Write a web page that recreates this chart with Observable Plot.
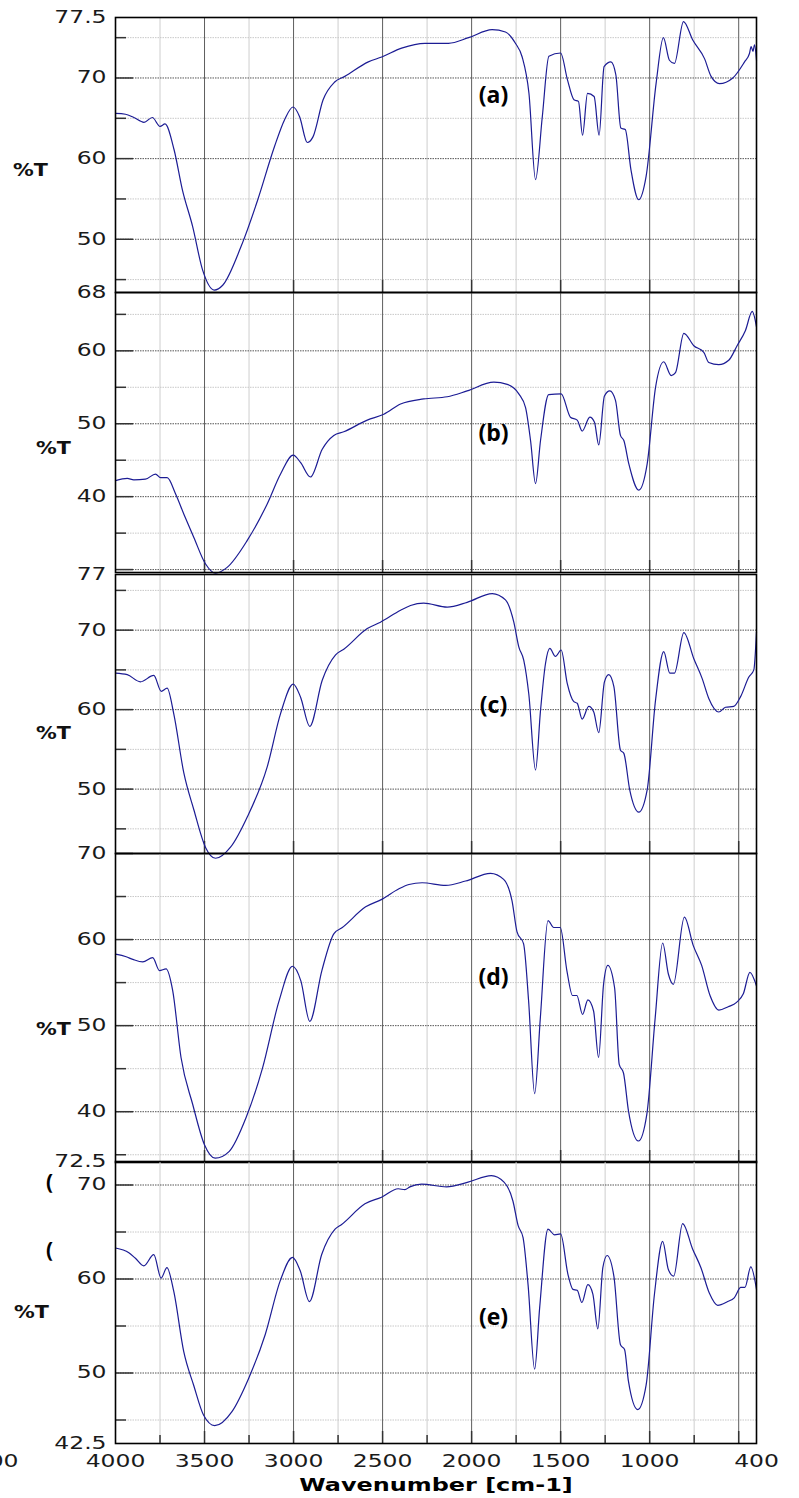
<!DOCTYPE html>
<html><head><meta charset="utf-8">
<script src="https://cdn.jsdelivr.net/npm/d3@7"></script>
<script src="https://cdn.jsdelivr.net/npm/@observablehq/plot@0.6"></script>
<style>
html,body{margin:0;padding:0;background:#fff;}
#chart{position:relative;width:799px;height:1498px;overflow:hidden;background:#fff;}
.panel{position:absolute;left:0;}
.panel svg{overflow:visible;background:transparent;}
</style></head><body><div id="chart"></div>
<script>
// ---- data: [wavenumber cm-1, %T] ----
const spectrumA = [
[4000,65.6],[3944,65.5],[3897,65.1],[3840,64.5],[3793,65.1],[3750,64.0],[3722,64.3],[3671,61.1],[3624,56.1],[3567,51.6],[3511,46.2],[3445,43.7],[3398,44.3],[3295,49.1],[3201,54.9],[3107,61.5],[3051,64.8],[3003,66.4],[2966,65.2],[2923,62.0],[2891,62.7],[2834,67.3],[2769,69.5],[2712,70.2],[2580,72.0],[2505,72.6],[2393,73.7],[2262,74.3],[2130,74.3],[2017,75.0],[1885,76.0],[1810,75.7],[1754,74.3],[1716,72.6],[1678,68.1],[1641,57.4],[1603,65.2],[1566,72.7],[1500,73.1],[1462,69.8],[1425,67.3],[1400,67.1],[1377,62.9],[1349,68.1],[1312,67.7],[1284,62.9],[1256,71.4],[1218,72.0],[1190,70.4],[1162,63.8],[1137,63.6],[1105,58.6],[1062,54.9],[1020,57.8],[964,69.3],[923,75.0],[889,72.2],[861,71.8],[810,77.0],[758,74.7],[692,72.4],[655,70.2],[608,69.3],[533,70.0],[467,72.0],[440,73.0],[430,73.9],[420,73.3],[411,74.1],[400,72.2]
];
const spectrumB = [
[4000,42.2],[3934,42.5],[3897,42.3],[3832,42.4],[3775,43.1],[3747,42.6],[3710,42.6],[3663,40.4],[3616,37.6],[3560,34.4],[3495,30.8],[3438,29.5],[3373,30.3],[3260,34.0],[3148,39.0],[3073,43.1],[3002,45.7],[2961,44.7],[2905,42.7],[2839,46.5],[2774,48.4],[2718,48.9],[2586,50.5],[2493,51.3],[2399,52.7],[2269,53.4],[2137,53.7],[2025,54.5],[1875,55.7],[1800,55.4],[1735,54.1],[1697,52.2],[1669,47.7],[1641,41.8],[1613,47.7],[1567,54.0],[1497,54.1],[1445,50.9],[1407,50.5],[1379,49.0],[1336,50.9],[1310,50.2],[1286,47.1],[1254,53.8],[1224,54.5],[1192,53.2],[1164,48.4],[1145,47.7],[1117,44.5],[1061,40.9],[1014,44.5],[967,55.0],[921,58.5],[879,56.6],[855,57.0],[808,62.4],[752,60.7],[696,59.8],[668,58.4],[612,58.1],[556,58.7],[509,60.7],[462,62.8],[424,65.4],[400,63.3]
];
const spectrumC = [
[4000,64.6],[3934,64.4],[3860,63.5],[3785,64.3],[3743,62.3],[3710,62.7],[3673,59.5],[3616,52.0],[3560,47.4],[3495,42.7],[3438,41.3],[3354,42.7],[3260,46.5],[3148,52.8],[3073,59.5],[3002,63.2],[2961,61.6],[2909,57.9],[2839,63.7],[2764,66.9],[2718,67.6],[2586,70.2],[2512,71.0],[2399,72.5],[2343,73.1],[2269,73.4],[2137,72.9],[2025,73.5],[1884,74.6],[1810,73.8],[1763,71.0],[1735,67.9],[1707,66.2],[1679,62.0],[1641,52.4],[1613,59.9],[1585,65.8],[1561,67.7],[1529,66.7],[1497,67.5],[1463,63.3],[1426,61.0],[1407,60.8],[1379,58.8],[1342,60.4],[1314,59.7],[1286,57.1],[1254,63.5],[1230,64.4],[1201,62.9],[1164,54.9],[1145,54.5],[1112,49.9],[1061,47.1],[1014,49.9],[967,61.2],[921,67.3],[887,64.6],[861,64.6],[808,69.7],[752,66.4],[705,63.9],[668,61.4],[612,59.7],[574,60.3],[528,60.4],[490,61.6],[443,64.1],[415,65.0],[400,69.8]
];
const spectrumD = [
[4000,58.3],[3940,58.0],[3903,57.7],[3847,57.4],[3791,57.9],[3753,56.4],[3716,56.6],[3679,54.1],[3632,46.3],[3567,40.9],[3501,36.2],[3440,34.6],[3361,35.4],[3267,39.3],[3174,45.1],[3081,52.9],[3006,56.9],[2959,55.2],[2909,50.5],[2841,56.4],[2773,60.7],[2726,61.4],[2595,63.8],[2502,64.7],[2408,65.9],[2352,66.4],[2278,66.6],[2146,66.3],[2034,66.8],[1894,67.7],[1820,67.0],[1773,64.5],[1745,60.9],[1708,59.5],[1680,52.9],[1646,42.1],[1614,50.9],[1571,62.2],[1539,61.4],[1502,61.4],[1465,56.4],[1433,53.5],[1409,53.5],[1377,51.3],[1347,53.0],[1315,51.7],[1287,46.3],[1259,54.8],[1235,57.0],[1197,54.4],[1171,45.5],[1147,44.5],[1119,40.1],[1063,36.6],[1016,39.7],[969,50.9],[927,59.6],[895,56.0],[867,54.8],[805,62.6],[755,59.3],[708,57.0],[661,53.5],[611,51.8],[559,52.2],[512,52.7],[474,53.7],[437,56.2],[400,54.6]
];
const spectrumE = [
[4000,63.3],[3925,62.8],[3888,62.2],[3841,61.4],[3785,62.6],[3744,60.1],[3711,61.2],[3673,58.7],[3617,52.3],[3561,48.7],[3505,45.5],[3443,44.4],[3346,45.9],[3253,49.4],[3159,54.1],[3075,59.8],[3006,62.3],[2963,60.9],[2911,57.6],[2842,62.6],[2767,65.3],[2730,65.8],[2599,68.0],[2506,68.7],[2412,69.6],[2375,69.5],[2347,69.8],[2281,70.1],[2141,69.8],[2020,70.3],[1889,71.0],[1818,70.3],[1768,68.3],[1739,65.7],[1711,64.4],[1683,59.4],[1646,50.4],[1618,56.9],[1571,65.3],[1534,64.7],[1500,64.8],[1459,60.5],[1431,58.9],[1407,58.8],[1381,57.5],[1347,59.4],[1319,58.4],[1291,54.7],[1263,61.2],[1239,62.5],[1201,60.3],[1164,53.0],[1141,52.5],[1119,49.1],[1067,46.1],[1020,48.7],[973,58.4],[927,64.0],[895,61.0],[865,60.3],[815,65.9],[759,63.2],[712,61.2],[665,58.5],[618,57.2],[562,57.6],[525,58.0],[488,59.1],[465,59.1],[432,61.3],[400,58.9]
];
// y ranges of each panel [bottom, top]
const rangeA = [43.4, 77.5];
const rangeB = [29.6, 68];
const rangeC = [41.9, 77];
const rangeD = [34.1, 70];
const rangeE = [42.5, 72.5];
// labelled y ticks
const yLabelsA = [77.5, 70, 60, 50];
const yLabelsB = [68, 60, 50, 40];
const yLabelsC = [77, 70, 60, 50];
const yLabelsD = [70, 60, 50, 40];
const yLabelsE = [72.5, 70, 60, 50, 42.5];
// x ticks
const majorWave = [3500, 3000, 2500, 2000, 1500, 1000, 500];
const minorWave = [3750, 3250, 2750, 2250, 1750, 1250, 750];
const xTickLabels = [4000, 3500, 3000, 2500, 2000, 1500, 1000, 400];
const panelTags = ["(a)", "(b)", "(c)", "(d)", "(e)"];

// ---- layout ----
const W = 799, ML = 115, MR = 43;
const plotW = W - ML - MR;
const lineColor = "#1c1c94";
const majorGrid = "#5e5e5e", minorGrid = "#d6d6d6";

const panels = [
  {data: spectrumA, domain: rangeA, labels: yLabelsA, top: 17, height: 275, tagY: 95, pct: [30, 170]},
  {data: spectrumB, domain: rangeB, labels: yLabelsB, top: 292, height: 280, tagY: 433, pct: [53, 448]},
  {data: spectrumC, domain: rangeC, labels: yLabelsC, top: 574, height: 279, tagY: 705, pct: [53, 733]},
  {data: spectrumD, domain: rangeD, labels: yLabelsD, top: 853, height: 309, tagY: 977, pct: [53, 1029]},
  {data: spectrumE, domain: rangeE, labels: yLabelsE, top: 1161, height: 282, tagY: 1317, pct: [31, 1312], last: true}
];

// stretch a text element horizontally about its anchor
function stretch(t, sx) {
  const tr = t.getAttribute("transform");
  if (tr && tr.includes("translate")) {
    t.setAttribute("transform", tr + ` scale(${sx},1)`);
  } else {
    const x = +(t.getAttribute("x") || 0), y = +(t.getAttribute("y") || 0);
    t.removeAttribute("x"); t.removeAttribute("y");
    t.setAttribute("transform", `translate(${x},${y}) scale(${sx},1)` + (tr ? " " + tr : ""));
  }
}

const chart = document.getElementById("chart");
panels.forEach((p, i) => {
  const [lo, hi] = p.domain;
  const major = d3.range(Math.ceil(lo / 10) * 10, hi + 1e-9, 10);
  const minor = d3.range(Math.ceil(lo / 5) * 5, hi + 1e-9, 5).filter(v => v % 10 !== 0);
  const numFont = {fontSize: 17, fontFamily: "DejaVu Sans", fill: "#1a1a1a", lineAnchor: "middle"};
  const marks = [
    Plot.ruleX(minorWave, {x: d => d, stroke: minorGrid, strokeWidth: 1.2}),
    Plot.ruleY(minor, {y: d => d, stroke: "#c8c8c8", strokeDasharray: "1.5,1"}),
    Plot.ruleX(majorWave, {x: d => d, stroke: majorGrid, strokeWidth: 1}),
    Plot.ruleY(major, {y: d => d, stroke: "#555", strokeDasharray: "1.5,1"}),
    Plot.tickY(major, {y: d => d, stroke: "#333", strokeWidth: 1.5, insetRight: plotW - 18}),
    Plot.tickY(minor, {y: d => d, stroke: "#333", strokeWidth: 1.5, insetRight: plotW - 11}),
    Plot.tickX(majorWave, {x: d => d, stroke: "#333", strokeWidth: 1.5, insetTop: p.height - 12}),
    Plot.line(p.data, {x: d => d[0], y: d => d[1], stroke: lineColor, strokeWidth: 1.2, curve: "monotone-x"}),
    Plot.frame({stroke: "#000", strokeWidth: 1.6}),
    Plot.text(p.labels, {y: d => d, text: d => String(d), frameAnchor: "left", dx: -9, textAnchor: "end", ...numFont}),
    Plot.text(["%T"], {frameAnchor: "top-left", dx: p.pct[0] - ML, dy: p.pct[1] - p.top, textAnchor: "middle", lineAnchor: "middle",
      fontSize: 18, fontWeight: "bold", fontFamily: "DejaVu Sans", fill: "#111"}),
    Plot.text([panelTags[i]], {frameAnchor: "top-left", dx: 493 - ML, dy: p.tagY - p.top, textAnchor: "middle", lineAnchor: "middle",
      fontSize: 23, fontWeight: "bold", fontFamily: "Open Sans", fill: "#000"})
  ];
  if (p.last) {
    marks.push(
      Plot.tickX(minorWave, {x: d => d, stroke: "#333", strokeWidth: 1.5, insetTop: p.height - 8}),
      Plot.text(xTickLabels, {x: d => d, text: d => String(d), frameAnchor: "bottom", dy: 18, ...numFont}),
      Plot.text(["00"], {frameAnchor: "bottom-left", dx: 18 - ML, dy: 18, textAnchor: "end", ...numFont}),
      Plot.text(["Wavenumber [cm-1]"], {frameAnchor: "bottom", dy: 42, lineAnchor: "middle",
        fontSize: 18, fontWeight: "bold", fontFamily: "DejaVu Sans", fill: "#000"}),
      Plot.text(["("], {frameAnchor: "top-left", dx: 49 - ML, dy: 1182 - p.top, textAnchor: "middle", lineAnchor: "middle",
        fontSize: 21, fontWeight: "bold", fontFamily: "Open Sans", fill: "#000"}),
      Plot.text(["("], {frameAnchor: "top-left", dx: 49 - ML, dy: 1250 - p.top, textAnchor: "middle", lineAnchor: "middle",
        fontSize: 21, fontWeight: "bold", fontFamily: "Open Sans", fill: "#000"})
    );
  }
  const svg = Plot.plot({
    width: W, height: p.height,
    marginLeft: ML, marginRight: MR, marginTop: 0, marginBottom: 0,
    style: {overflow: "visible", background: "transparent"},
    x: {domain: [4000, 400], axis: null},
    y: {domain: [lo, hi], axis: null},
    marks
  });
  // wide-set typography of the original
  svg.querySelectorAll("text").forEach(t => {
    const s = t.textContent;
    if (/^[\d.]+$/.test(s)) stretch(t, 1.38);
    else if (s === "%T") stretch(t, 1.15);
    else if (s.startsWith("Wavenumber")) stretch(t, 1.33);
  });
  const div = document.createElement("div");
  div.className = "panel";
  div.style.top = p.top + "px";
  div.appendChild(svg);
  chart.appendChild(div);
});
</script></body></html>
